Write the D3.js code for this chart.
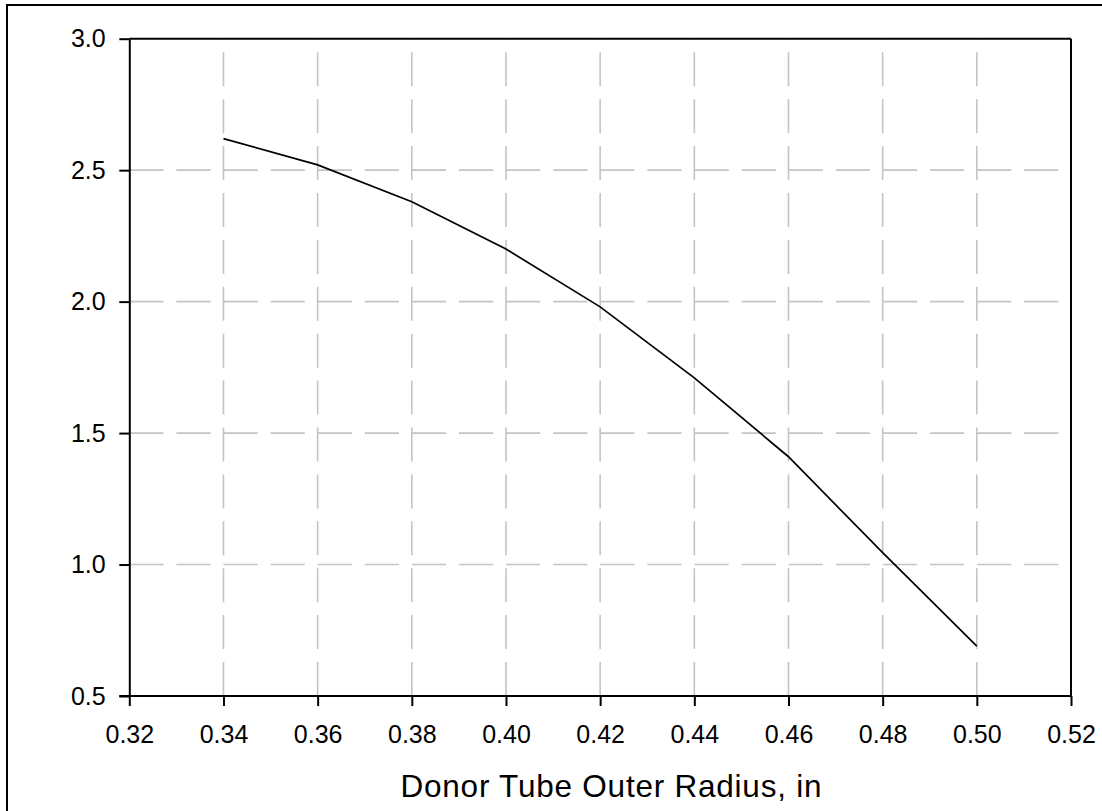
<!DOCTYPE html>
<html>
<head>
<meta charset="utf-8">
<script src="https://cdn.jsdelivr.net/npm/d3@7"></script>
<style>
  html, body { margin: 0; padding: 0; background: #fff; }
  svg { display: block; }
  text { font-family: "Liberation Sans", Arial, sans-serif; fill: #000; }
</style>
</head>
<body>
<svg id="chart" width="1102" height="811"></svg>
<script>
const radius = [0.34, 0.36, 0.38, 0.40, 0.42, 0.44, 0.46, 0.48, 0.50];
const values = [2.62, 2.52, 2.38, 2.20, 1.98, 1.71, 1.41, 1.045, 0.69];
const xTicks = [0.32, 0.34, 0.36, 0.38, 0.40, 0.42, 0.44, 0.46, 0.48, 0.50, 0.52];
const yTicks = [0.5, 1.0, 1.5, 2.0, 2.5, 3.0];
const xTitle = "Donor Tube Outer Radius, in";

const svg = d3.select("#chart");
const L = 129.3, R = 1071, T = 38.7, B = 696;

const x = d3.scaleLinear().domain([0.32, 0.52]).range([L, R]);
const y = d3.scaleLinear().domain([0.5, 3.0]).range([B, T]);

// outer frame
svg.append("rect").attr("x", 7).attr("y", 5).attr("width", 1110).attr("height", 820)
  .attr("fill", "none").attr("stroke", "#000").attr("stroke-width", 2);

// grid
const grid = svg.append("g");
grid.selectAll("line.v").data(xTicks.filter(d => d > 0.321 && d < 0.519)).enter().append("line")
  .attr("x1", d => x(d)).attr("x2", d => x(d)).attr("y1", B).attr("y2", T)
  .attr("stroke", "#c4c4c4").attr("stroke-width", 1.6).attr("stroke-dasharray", "34 12.9");
grid.selectAll("line.h").data(yTicks.filter(d => d > 0.51 && d < 2.99)).enter().append("line")
  .attr("x1", L).attr("x2", R).attr("y1", d => y(d)).attr("y2", d => y(d))
  .attr("stroke", "#c4c4c4").attr("stroke-width", 1.6).attr("stroke-dasharray", "34.2 12.9");

// top/right frame
svg.append("line").attr("x1", L).attr("x2", R).attr("y1", T).attr("y2", T).attr("stroke", "#000").attr("stroke-width", 2);
svg.append("line").attr("x1", R).attr("x2", R).attr("y1", T).attr("y2", B).attr("stroke", "#000").attr("stroke-width", 2);

// axes
const xAxis = d3.axisBottom(x).tickValues(xTicks).tickFormat(d3.format(".2f")).tickSize(10).tickSizeOuter(0).tickPadding(19);
const gx = svg.append("g").attr("transform", `translate(0,${B})`).call(xAxis);
const yAxis = d3.axisLeft(y).tickValues(yTicks).tickFormat(d3.format(".1f")).tickSize(10).tickSizeOuter(0).tickPadding(13.6);
const gy = svg.append("g").attr("transform", `translate(${L},0)`).call(yAxis);
[gx, gy].forEach(g => {
  g.select(".domain").attr("stroke", "#000").attr("stroke-width", 2);
  g.selectAll(".tick line").attr("stroke", "#000").attr("stroke-width", 2);
  g.selectAll("text").attr("font-size", 25).attr("font-family", "Liberation Sans, Arial, sans-serif").attr("fill", "#000");
});
gx.select(".domain").attr("d", `M${L - 10},0H${R}`);

// line
const line = d3.line().x((d, i) => x(radius[i])).y(d => y(d));
svg.append("path").datum(values).attr("d", line)
  .attr("fill", "none").attr("stroke", "#000").attr("stroke-width", 1.7);

// title
svg.append("text").attr("x", 611).attr("y", 797).attr("text-anchor", "middle")
  .attr("font-size", 31.5).attr("textLength", 421).attr("lengthAdjust", "spacing").text(xTitle);
</script>
</body>
</html>
